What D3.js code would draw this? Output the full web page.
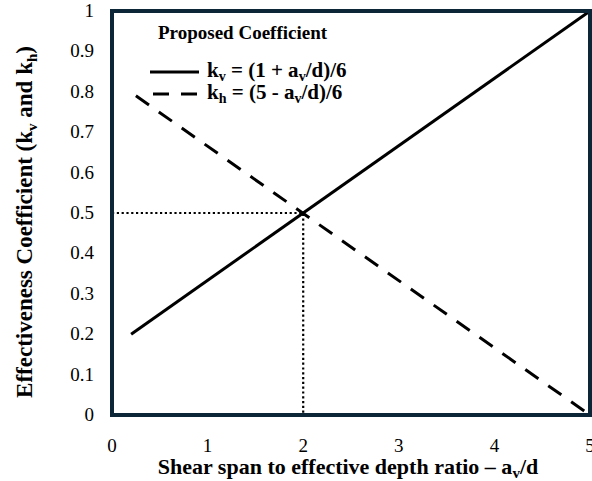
<!DOCTYPE html>
<html>
<head>
<meta charset="utf-8">
<script src="https://cdn.jsdelivr.net/npm/d3@7"></script>
<style>
  body { margin: 0; background: #fff; }
  text { font-family: "Liberation Serif", "DejaVu Serif", serif; fill: #000; }
</style>
</head>
<body>
<div id="chart"></div>
<script>
// data
const xTicks = [0, 1, 2, 3, 4, 5]
const yTicks = [0, 0.1, 0.2, 0.3, 0.4, 0.5, 0.6, 0.7, 0.8, 0.9, 1]
const kvX = [0.2, 5]
const kvY = [0.2, 1]
const khX = [0.25, 5]
const khY = [0.79, 0]
const guideX = [0, 2, 2]
const guideY = [0.5, 0.5, 0]

const width = 592, height = 481
const pLeft = 112, pRight = 590, pTop = 11, pBottom = 415

const svg = d3.select("#chart").append("svg")
  .attr("width", width).attr("height", height)

const x = d3.scaleLinear().domain([0, 5]).range([pLeft, pRight])
const y = d3.scaleLinear().domain([0, 1]).range([pBottom, pTop])

// tick labels (no tick marks in the original)
svg.append("g").selectAll("text")
  .data(xTicks).enter().append("text")
  .attr("x", d => x(d)).attr("y", 452)
  .attr("text-anchor", "middle")
  .style("font-size", "19px")
  .text(d => d)

svg.append("g").selectAll("text")
  .data(yTicks).enter().append("text")
  .attr("x", 94).attr("y", d => y(d) + 6)
  .attr("text-anchor", "end")
  .style("font-size", "19px")
  .text(d => d)

const line = d3.line().x(d => x(d[0])).y(d => y(d[1]))

// dotted guide at 0.5
svg.append("path")
  .datum(guideX.map((v, i) => [v, guideY[i]]))
  .attr("d", line).attr("fill", "none")
  .attr("stroke", "#000").attr("stroke-width", 2.2)
  .attr("stroke-dasharray", "2.2,2.6")

svg.append("path")
  .datum(kvX.map((v, i) => [v, kvY[i]]))
  .attr("d", line).attr("fill", "none")
  .attr("stroke", "#000").attr("stroke-width", 3)

svg.append("path")
  .datum(khX.map((v, i) => [v, khY[i]]))
  .attr("d", line).attr("fill", "none")
  .attr("stroke", "#000").attr("stroke-width", 3)
  .attr("stroke-dasharray", "16,12")

// frame
svg.append("rect")
  .attr("x", pLeft).attr("y", pTop)
  .attr("width", pRight - pLeft).attr("height", pBottom - pTop)
  .attr("fill", "none").attr("stroke", "#0c2638").attr("stroke-width", 4)

// legend
const lg = svg.append("g")
lg.append("text").attr("x", 158).attr("y", 39)
  .style("font-size", "19px").style("font-weight", "bold")
  .text("Proposed Coefficient")
lg.append("line").attr("x1", 150).attr("x2", 199).attr("y1", 72).attr("y2", 72)
  .attr("stroke", "#000").attr("stroke-width", 3)
lg.append("line").attr("x1", 153).attr("x2", 199).attr("y1", 94).attr("y2", 94)
  .attr("stroke", "#000").attr("stroke-width", 3)
  .attr("stroke-dasharray", "16,12")

function eqn(g, yy, sub, rest) {
  const t = g.append("text").attr("x", 207).attr("y", yy)
    .style("font-size", "21px").style("font-weight", "bold")
  t.append("tspan").text("k")
  t.append("tspan").attr("dy", 4).style("font-size", "14px").text(sub)
  t.append("tspan").attr("dy", -4).text(rest[0])
  t.append("tspan").attr("dy", 4).style("font-size", "14px").text("v")
  t.append("tspan").attr("dy", -4).text(rest[1])
}
eqn(lg, 77, "v", [" = (1 + a", "/d)/6"])
eqn(lg, 99, "h", [" = (5 - a", "/d)/6"])

// axis titles
const xt = svg.append("text").attr("x", 348).attr("y", 474)
  .attr("text-anchor", "middle")
  .style("font-size", "22px").style("font-weight", "bold")
xt.append("tspan").text("Shear span to effective depth ratio \u2013 a")
xt.append("tspan").attr("dy", 4).style("font-size", "15px").text("v")
xt.append("tspan").attr("dy", -4).text("/d")

const yt = svg.append("text")
  .attr("transform", "translate(32,222) rotate(-90)")
  .attr("text-anchor", "middle")
  .style("font-size", "23px").style("font-weight", "bold")
yt.append("tspan").text("Effectiveness Coefficient (k")
yt.append("tspan").attr("dy", 5).style("font-size", "15px").text("v")
yt.append("tspan").attr("dy", -5).text(" and k")
yt.append("tspan").attr("dy", 5).style("font-size", "15px").text("h")
yt.append("tspan").attr("dy", -5).text(")")
</script>
</body>
</html>
